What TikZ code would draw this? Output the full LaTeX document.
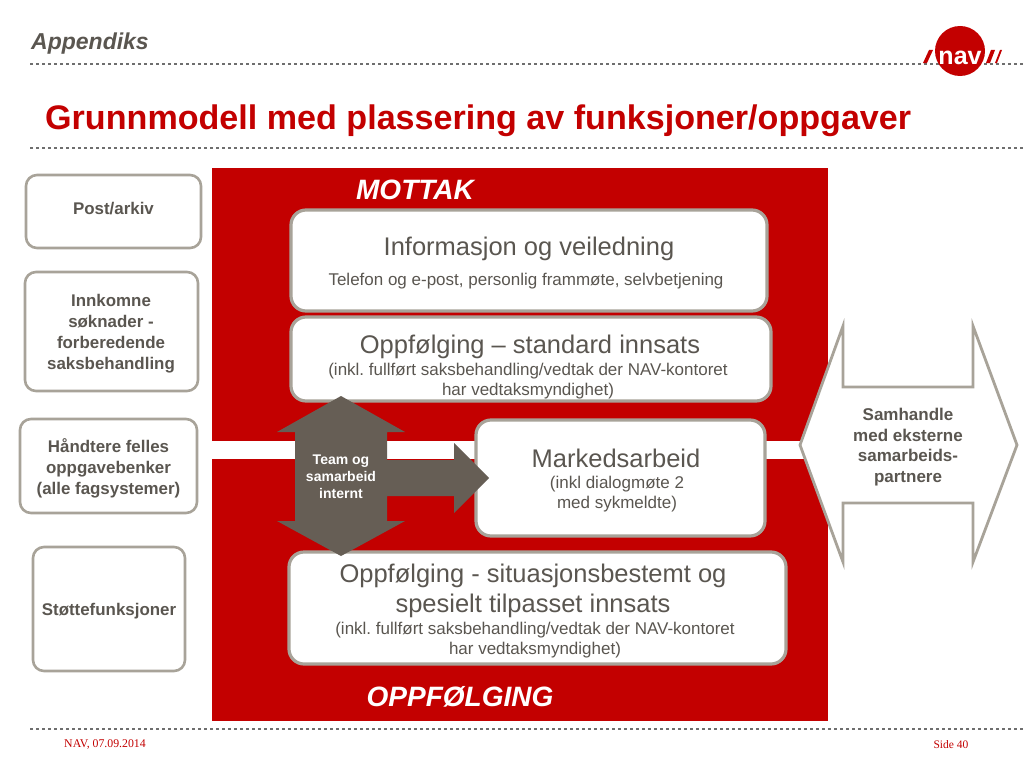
\documentclass[tikz,border=0pt]{standalone}
\usepackage{fontspec}
\setmainfont{Liberation Sans}
\newfontfamily\timesfont{Liberation Serif}
\frenchspacing
\usetikzlibrary{positioning,calc}
\definecolor{navred}{HTML}{C30000}
\definecolor{stone}{HTML}{A8A399}
\definecolor{umber}{HTML}{665E55}
\definecolor{inktext}{HTML}{5A5650}
\definecolor{dotgrey}{HTML}{6E6E6E}
\tikzset{
  sidebox/.style={draw=stone,line width=2.6pt,rounded corners=11pt,fill=white,inner sep=0pt},
  sidetext/.style={align=center,inner sep=0pt,text=inktext,font=\fontsize{16.9}{21}\selectfont\bfseries},
  mainbox/.style={draw=stone,line width=3.2pt,rounded corners=15pt,fill=white,inner sep=0pt},
  headtext/.style={text=inktext,font=\fontsize{25.5}{30}\selectfont,align=center,inner sep=0pt},
  subtext/.style={text=inktext,font=\fontsize{17}{20}\selectfont,align=center,inner sep=0pt},
  zonetext/.style={text=white,font=\fontsize{28}{32}\selectfont\bfseries\itshape,inner sep=0pt},
  dotrule/.style={dotgrey,line width=2.5pt,dash pattern=on 2.5pt off 3.5pt}
}
\begin{document}
\begin{tikzpicture}[x=1pt,y=-1pt]
  \useasboundingbox (0,0) rectangle (1024,768);
  \fill[white] (0,0) rectangle (1024,768);
  \draw[dotrule] (30,64) -- (1024,64);
  \draw[dotrule] (30,148) -- (1024,148);
  \draw[dotrule] (30,729) -- (1024,729);
  \node[anchor=west,inner sep=0pt,text=inktext,font=\fontsize{23}{28}\selectfont\bfseries\itshape] (section) at (31,44) {Appendiks};
  \node[anchor=west,inner sep=0pt,text=navred,font=\fontsize{34.1}{40}\selectfont\bfseries] (title) at (45,121) {Grunnmodell med plassering av funksjoner/oppgaver};
  \fill[navred] (923,63) -- (927,63) -- (933,50) -- (929,50) -- cycle;
  \fill[navred] (986,63) -- (990,63) -- (995,50) -- (991,50) -- cycle;
  \fill[navred] (995,63) -- (997,63) -- (1002,50) -- (1000,50) -- cycle;
  \node[circle,fill=navred,minimum size=50pt,inner sep=0pt] (logo) at (960,51) {};
  \node[text=white,inner sep=0pt,font=\fontsize{25}{25}\selectfont\bfseries] (logotext) at (960,58) {nav};
  \fill[navred] (212,168) rectangle (828,721);
  \fill[white] (212,441) rectangle (828,459);
  \node[zonetext] (mottak) at (415,190) {MOTTAK};
  \node[zonetext] (oppfolging) at (460,697) {OPPFØLGING};
  \node[sidebox,minimum width=175pt,minimum height=73pt] (post) at (113.5,211.5) {};
  \node[sidetext] (posttext) at (113.5,209) {Post/arkiv};
  \node[sidebox,minimum width=173pt,minimum height=119pt] (innkomne) at (111.5,331.5) {};
  \node[sidetext] (innkomnetext) at (111,334) {Innkomne\\søknader -\\forberedende\\ saksbehandling};
  \node[sidebox,minimum width=177pt,minimum height=94pt] (felles) at (108.5,466) {};
  \node[sidetext] (fellestext) at (108.5,468) {Håndtere felles\\oppgavebenker\\(alle fagsystemer)};
  \node[sidebox,minimum width=152pt,minimum height=124pt] (stotte) at (109,609) {};
  \node[sidetext] (stottetext) at (109,611) {Støttefunksjoner};
  \node[mainbox,minimum width=476pt,minimum height=101pt] (info) at (529,260.5) {};
  \node[headtext] (infohead) at (529,249) {Informasjon og veiledning};
  \node[subtext] (infosub) at (526,281) {Telefon og e-post, personlig frammøte, selvbetjening};
  \node[mainbox,minimum width=480pt,minimum height=84pt] (standard) at (531,359) {};
  \node[headtext] (standardhead) at (530,347) {Oppfølging – standard innsats};
  \node[subtext] (standardsub) at (528,381) {(inkl. fullført saksbehandling/vedtak der NAV-kontoret\\har vedtaksmyndighet)};
  \node[mainbox,minimum width=497pt,minimum height=112pt] (situasjon) at (537.5,608) {};
  \node[headtext] (situasjonhead) at (533,591) {Oppfølging - situasjonsbestemt og\\spesielt tilpasset innsats};
  \node[subtext] (situasjonsub) at (535,640) {(inkl. fullført saksbehandling/vedtak der NAV-kontoret\\har vedtaksmyndighet)};
  \node[mainbox,minimum width=289pt,minimum height=116pt] (marked) at (620.5,478) {};
  \node[headtext] (markedhead) at (616,458) {Markedsarbeid};
  \node[subtext] (markedsub) at (617,494) {(inkl dialogmøte 2\\ med sykmeldte)};
  \fill[umber] (341,396) -- (405,432) -- (387,432) -- (387,460) -- (454,460) -- (454,443) -- (489,478)
    -- (454,513) -- (454,496) -- (387,496) -- (387,521) -- (405,521) -- (341,556) -- (277,521)
    -- (295,521) -- (295,432) -- (277,432) -- cycle;
  \node[text=white,align=center,inner sep=0pt,font=\fontsize{14}{17}\selectfont\bfseries] (team) at (341,477) {Team og\\samarbeid\\internt};
  \draw[stone,line width=2.8pt,fill=white,line join=miter] (800,445) -- (843,326) -- (843,387) -- (973,387)
    -- (973,326) -- (1017,445) -- (973,562) -- (973,503) -- (843,503) -- (843,562) -- cycle;
  \node[text=inktext,align=center,inner sep=0pt,font=\fontsize{17}{20.5}\selectfont\bfseries] (samhandle) at (908,447) {Samhandle\\ med eksterne\\samarbeids-\\partnere};
  \node[text=navred,inner sep=0pt,font=\fontsize{11.8}{14}\selectfont\timesfont] (footdate) at (105,744) {NAV, 07.09.2014};
  \node[text=navred,inner sep=0pt,font=\fontsize{11.5}{14}\selectfont\timesfont] (footpage) at (951,745) {Side 40};
\end{tikzpicture}
\end{document}
